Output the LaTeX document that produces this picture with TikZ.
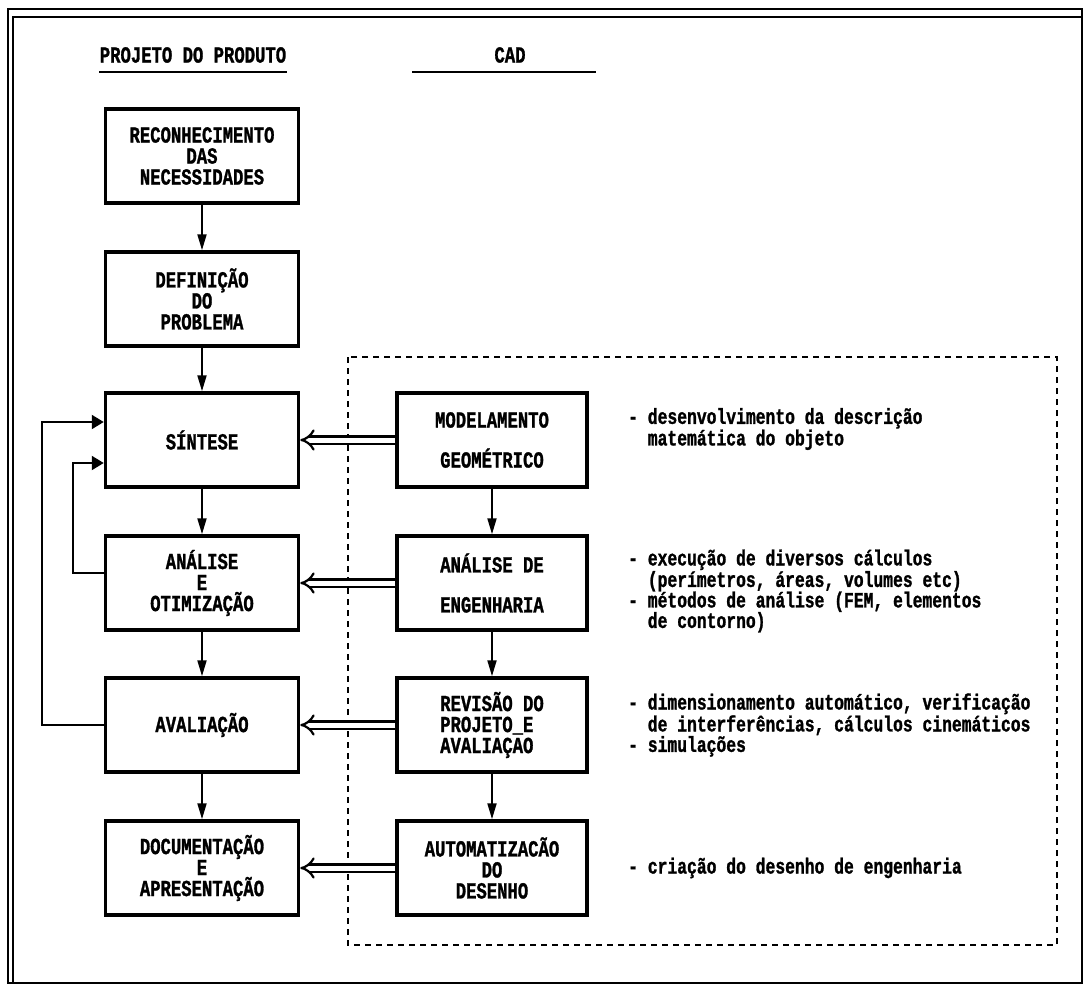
\documentclass[tikz,border=0pt]{standalone}
\usepackage{fontspec}
\usepackage{tikz}
\usetikzlibrary{arrows.meta}
\newfontfamily\dotfont[FakeStretch=0.75,BoldFeatures={FakeBold=1.2}]{Liberation Mono}
\newcommand\descind{\phantom{-}\ }

\begin{document}
\begin{tikzpicture}[x=1pt,y=-1pt,
  every node/.style={font=\dotfont\bfseries\fontsize{23}{21}\selectfont},
  box/.style={draw, line width=3.5pt, minimum width=193pt, minimum height=94pt, align=center, inner sep=0pt},
  rbox/.style={box, minimum width=190pt},
  desc/.style={anchor=west, align=left, inner sep=0pt, font=\dotfont\bfseries\fontsize{21.8}{20.5}\selectfont},
  arr/.style={-{Triangle[length=16pt,width=9pt]}, line width=2pt},
  back/.style={-{Triangle[length=12pt,width=14pt]}, line width=2pt},
  hollow/.style={double, double distance=5pt, line width=2.2pt, -{Implies[scale=1.4]}},
  cadline/.style={line width=2pt, dash pattern=on 6pt off 5pt},
  uline/.style={line width=2.5pt}]
\useasboundingbox (0,0) rectangle (1085,988);
\draw[line width=2pt] (8,9) rectangle (1082,983);
\draw[line width=1.5pt] (13,983) -- (13,17) -- (1082,17);

\node (projhd) at (193,55) {PROJETO DO PRODUTO};
\node (cadhd) at (510,55) {CAD};
\draw[uline] (99,72) -- (287,72);
\draw[uline] (412,72) -- (596,72);

\draw[cadline] (348,357) rectangle (1057,945);

\node[box] (recon) at (202,156) {RECONHECIMENTO\\DAS\\NECESSIDADES};
\node[box] (defin) at (202,299) {DEFINIÇÃO\\DO\\PROBLEMA};
\node[box] (sintese) at (202,440) {SÍNTESE};
\node[box] (analise) at (202,583) {ANÁLISE\\E\\OTIMIZAÇÃO};
\node[box] (avalia) at (202,725) {AVALIAÇÃO};
\node[box] (docum) at (202,868) {DOCUMENTAÇÃO\\E\\APRESENTAÇÃO};

\node[rbox] (model) at (492,440) {MODELAMENTO\\[19pt]GEOMÉTRICO};
\node[rbox] (engen) at (492,583) {ANÁLISE DE\\[19pt]ENGENHARIA};
\node[rbox, align=left] (revisao) at (492,725) {REVISÃO DO\\PROJETO\_E\\AVALIAÇAO};
\node[rbox] (automat) at (492,868) {AUTOMATIZACÃO\\DO\\DESENHO};

\node[desc] (dmodel) at (628,429) {- desenvolvimento da descrição\\\descind matemática do objeto};
\node[desc] (dengen) at (628,591) {- execução de diversos cálculos\\\descind (perímetros, áreas, volumes etc)\\- métodos de análise (FEM, elementos\\\descind de contorno)};
\node[desc] (drevisao) at (628,725) {- dimensionamento automático, verificação\\\descind de interferências, cálculos cinemáticos\\- simulações};
\node[desc] (dautomat) at (628,868) {- criação do desenho de engenharia};

\draw[arr] (recon) -- (defin);
\draw[arr] (defin) -- (sintese);
\draw[arr] (sintese) -- (analise);
\draw[arr] (analise) -- (avalia);
\draw[arr] (avalia) -- (docum);
\draw[arr] (model) -- (engen);
\draw[arr] (engen) -- (revisao);
\draw[arr] (revisao) -- (automat);

\draw[hollow] (model) -- (sintese);
\draw[hollow] (engen) -- (analise);
\draw[hollow] (revisao) -- (avalia);
\draw[hollow] (automat) -- (docum);

\draw[back] (avalia.west) -- ++(-61.5,0) |- ([yshift=18pt]sintese.west);
\draw[back] ([yshift=10pt]analise.west) -- ++(-30.5,0) |- ([yshift=-23pt]sintese.west);
\end{tikzpicture}
\end{document}
